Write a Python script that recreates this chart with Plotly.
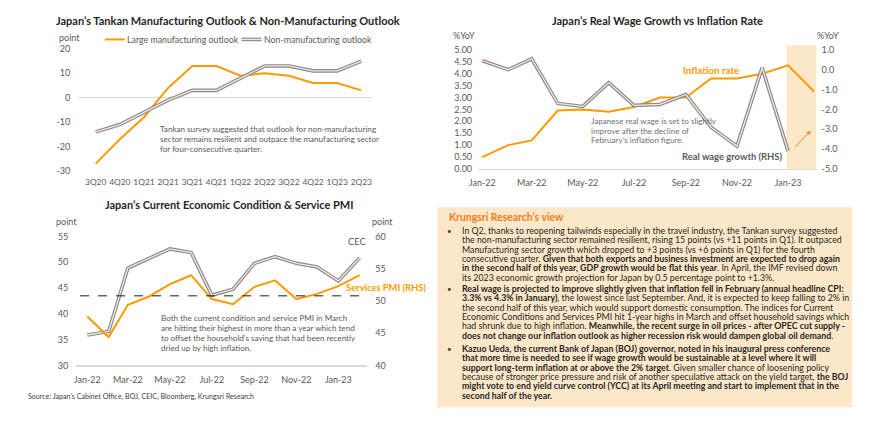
import plotly.graph_objects as go

W, H = 870, 424
FONT = "Lato"
ORANGE = "#FF9900"
GRAY_OUT = "#8F8883"
GRAY_IN = "#ECEAE8"
TXT = "#595959"
TITLE = "#262626"
PEACH = "#FDE7C9"

# ---------------- data ----------------
quarters = ["3Q20", "4Q20", "1Q21", "2Q21", "3Q21", "4Q21", "1Q22", "2Q22", "3Q22", "4Q22", "1Q23", "2Q23"]
large_mfg = [-27, -17, -8, 4, 13, 13, 9, 10, 9, 6, 6, 3]
non_mfg = [-14, -11, -6, -1, 3, 3, 8, 13, 13, 11, 11, 15]
tankan_ticks = [20, 10, 0, -10, -20, -30]
tankan_ticktext = ["20", "10", "0", "-10", "-20", "-30"]

months_infl = ["2022-01-01", "2022-02-01", "2022-03-01", "2022-04-01", "2022-05-01", "2022-06-01",
               "2022-07-01", "2022-08-01", "2022-09-01", "2022-10-01", "2022-11-01", "2022-12-01",
               "2023-01-01", "2023-02-01"]
inflation = [0.5, 1.0, 1.2, 2.45, 2.5, 2.4, 2.6, 3.0, 3.0, 3.8, 3.8, 4.0, 4.35, 3.25]
months_wage = months_infl[:13]
real_wage = [0.45, 0.0, 0.55, -1.7, -1.85, -0.65, -1.8, -1.75, -1.25, -2.9, -3.85, 0.1, -4.1]
infl_ticks = [0, 0.5, 1, 1.5, 2, 2.5, 3, 3.5, 4, 4.5, 5]
wage_ticks = [1, 0, -1, -2, -3, -4, -5]
wage_ticktext = ["1.0", "0.0", "-1.0", "-2.0", "-3.0", "-4.0", "-5.0"]

months_pmi = months_infl
cec = [35.9, 36.6, 48.9, 50.8, 52.6, 51.9, 43.6, 44.8, 49.8, 51.1, 49.8, 49.1, 46.4, 50.9]
pmi = [47.6, 44.4, 49.4, 50.7, 52.6, 54.0, 50.3, 49.5, 52.2, 53.2, 50.3, 51.1, 52.3, 54.0]
dash_level_cec = 43.5


def px(x):
    return x / W


def py(y):
    return 1 - y / H


fig = go.Figure()


def double_line(x, y, xa, ya, name):
    fig.add_trace(go.Scatter(x=x, y=y, xaxis=xa, yaxis=ya, mode="lines", name=name,
                             line=dict(color=GRAY_OUT, width=3.6), showlegend=False,
                             hoverinfo="skip"))
    fig.add_trace(go.Scatter(x=x, y=y, xaxis=xa, yaxis=ya, mode="lines", name=name,
                             line=dict(color=GRAY_IN, width=1.3), showlegend=False,
                             hoverinfo="skip"))


# chart 1
fig.add_trace(go.Scatter(x=quarters, y=large_mfg, xaxis="x", yaxis="y", mode="lines",
                         name="Large manufacturing outlook", line=dict(color=ORANGE, width=2),
                         showlegend=False))
double_line(quarters, non_mfg, "x", "y", "Non-manufacturing outlook")

# chart 2
fig.add_trace(go.Scatter(x=months_infl, y=inflation, xaxis="x2", yaxis="y2", mode="lines",
                         name="Inflation rate", line=dict(color=ORANGE, width=2), showlegend=False))
double_line(months_wage, real_wage, "x2", "y3", "Real wage growth (RHS)")

# chart 3
fig.add_trace(go.Scatter(x=months_pmi, y=pmi, xaxis="x3", yaxis="y5", mode="lines",
                         name="Services PMI (RHS)", line=dict(color=ORANGE, width=2),
                         showlegend=False))
double_line(months_pmi, cec, "x3", "y4", "CEC")

tickfont = dict(family=FONT, size=9, color=TXT)

fig.update_layout(
    width=W, height=H, margin=dict(l=0, r=0, t=0, b=0),
    paper_bgcolor="white", plot_bgcolor="rgba(0,0,0,0)",
    font=dict(family=FONT, color=TXT),
    showlegend=False,
    xaxis=dict(domain=[px(70), px(367)], anchor="y", type="category", range=[-0.72, 11.45],
               showgrid=False, showline=False, zeroline=False, ticks="",
               tickfont=dict(family=FONT, size=8.4, color=TXT),
               tickangle=0, ticklabelstandoff=5, fixedrange=True),
    yaxis=dict(domain=[py(169.3), py(44)], anchor="x", range=[-30, 20], tickvals=tankan_ticks,
               ticktext=tankan_ticktext, showgrid=False, zeroline=True, zerolinecolor="#D9D9D9",
               zerolinewidth=1, showline=False, ticks="", tickfont=tickfont, ticklabelstandoff=7),
    xaxis2=dict(domain=[px(474), px(816)], anchor="y2", type="date",
                range=["2021-12-27", "2023-02-04"], tick0="2022-01-01", dtick="M2",
                tickformat="%b-%y", showgrid=False, showline=True, linecolor="#D9D9D9", linewidth=1,
                zeroline=False, ticks="", tickfont=tickfont, tickangle=0, ticklabelstandoff=5),
    yaxis2=dict(domain=[py(167.3), py(45)], anchor="x2", range=[0, 5], tickvals=infl_ticks,
                tickformat=".2f", showgrid=False, zeroline=False, showline=False, ticks="",
                tickfont=tickfont, ticklabelstandoff=5),
    yaxis3=dict(overlaying="y2", anchor="x2", side="right", range=[-5, 1], tickvals=wage_ticks,
                ticktext=wage_ticktext, showgrid=False, zeroline=False, showline=False, ticks="",
                tickfont=tickfont, ticklabelstandoff=4),
    xaxis3=dict(domain=[px(68), px(362)], anchor="y4", type="date",
                range=["2021-12-16", "2023-02-12"], tick0="2022-01-01", dtick="M2",
                tickformat="%b-%y", showgrid=False, showline=True, linecolor="#D9D9D9", linewidth=1.5,
                zeroline=False, ticks="", tickfont=tickfont, tickangle=0, ticklabelstandoff=5),
    yaxis4=dict(domain=[py(369), py(236.7)], anchor="x3", range=[30, 55], dtick=5,
                showgrid=False, zeroline=False, showline=False, ticks="", tickfont=tickfont,
                ticklabelstandoff=7),
    yaxis5=dict(overlaying="y4", anchor="x3", side="right", range=[40, 60], dtick=5,
                showgrid=False, zeroline=False, showline=False, ticks="", tickfont=tickfont,
                ticklabelstandoff=7),
)


def legend_sample(x0, x1, y, color, width):
    return dict(type="line", xref="paper", yref="paper", x0=px(x0), x1=px(x1), y0=py(y), y1=py(y),
                line=dict(color=color, width=width))


shapes = [
    dict(type="rect", xref="x2", yref="paper", x0="2022-12-30", x1="2023-02-04",
         y0=py(167.3), y1=py(40), fillcolor=PEACH, line=dict(width=0), layer="below"),
    dict(type="line", xref="x3 domain", yref="y4", x0=0.013, x1=1.0, y0=dash_level_cec,
         y1=dash_level_cec, line=dict(color="#1a1a1a", width=1, dash="dash")),
    dict(type="rect", xref="paper", yref="paper", x0=px(433), x1=px(852), y0=py(412), y1=py(206.5),
         fillcolor=PEACH, line=dict(width=0), layer="below"),
    # chart 1 legend samples
    legend_sample(97, 117, 34.3, ORANGE, 2),
    legend_sample(235, 255, 34.3, GRAY_OUT, 3.6),
    legend_sample(235, 255, 34.3, GRAY_IN, 1.3),
]
fig.update_layout(shapes=shapes)

ann = []


def note(text, x, y, size=8, color=TXT, xanchor="left", yanchor="middle", bold=False, align="left"):
    if bold:
        text = "<b>" + text + "</b>"
    ann.append(dict(text=text, x=px(x), y=py(y), xref="paper", yref="paper", showarrow=False,
                    xanchor=xanchor, yanchor=yanchor, align=align,
                    font=dict(family=FONT, size=size, color=color)))


def note_lines(lines, x, y_first, spacing, size, color):
    """Multi-line text block whose line pitch is set independently from the glyph size."""
    base = spacing / 1.3
    text = "<br>".join('<span style="font-size:%.2fpx">%s</span>' % (size, ln) for ln in lines)
    y_mid = y_first + (len(lines) - 1) * spacing / 2
    note(text, x, y_mid, size=base, color=color)


# titles
note("Japan’s Tankan Manufacturing Outlook & Non-Manufacturing Outlook", 221, 15, size=11,
     color=TITLE, xanchor="center", bold=True)
note("Japan’s Real Wage Growth vs Inflation Rate", 655, 15, size=11, color=TITLE,
     xanchor="center", bold=True)
note("Japan’s Current Economic Condition & Service PMI", 222, 203.5, size=11, color=TITLE,
     xanchor="center", bold=True)

# chart 1 legend text
note("Large manufacturing outlook", 117.5, 34.3, size=8.8, color=TXT)
note("Non-manufacturing outlook", 256, 34.3, size=8.8, color=TXT)

# axis unit labels
note("point", 61.5, 32, size=9, xanchor="center")
note("%YoY", 460, 30, size=9, xanchor="center")
note("%YoY", 828, 30, size=9, xanchor="center")
note("point", 58, 221.5, size=9, xanchor="center")
note("point", 377, 221.5, size=9, xanchor="center")

# chart 1 commentary
note_lines(["Tankan survey suggested that outlook for non-manufacturing",
            "sector remains resilient and outpace the manufacturing sector",
            "for four-consecutive quarter."], 151, 126.3, 9.9, 8.1, "#595959")

# chart 2 annotations
note("Inflation rate", 709, 66, size=9.8, color=ORANGE, xanchor="center", bold=True)
note("Real wage growth (RHS)", 731, 155, size=9.4, color="#595959", xanchor="center", bold=True)
note_lines(["Japanese real wage is set to slightly", "improve after the decline of",
            "February’s inflation figure."], 586, 118.3, 9.7, 8.1, "#6f6f6f")
ann.append(dict(x=px(810), y=py(128), ax=-17, ay=18, xref="paper", yref="paper",
                showarrow=True, arrowhead=2, arrowsize=0.8, arrowwidth=1, arrowcolor="#F58220",
                text=""))

# chart 3 annotations
note("CEC", 352, 242, size=9.4, color="#595959", xanchor="center")
note("Services PMI (RHS)", 381, 289.5, size=9.4, color=ORANGE, xanchor="center", bold=True)
note_lines(["Both the current condition and service PMI in March",
            "are hitting their highest in more than a year which tend",
            "to offset the household’s saving that had been recently",
            "dried up by high inflation."], 152, 320.7, 9.85, 8.1, "#595959")

# source
note("Source: Japan’s Cabinet Office, BOJ, CEIC, Bloomberg, Krungsri Research", 17, 401,
     size=7.1, color="#404040")

# text box
note("Krungsri Research’s view", 443, 217, size=10.4, color="#F47B20", bold=True)

bullets = [
    ["In Q2, thanks to reopening tailwinds especially in the travel industry, the Tankan survey suggested",
     "the non-manufacturing sector remained resilient, rising 15 points (vs +11 points in Q1). It outpaced",
     "Manufacturing sector growth which dropped to +3 points (vs +6 points in Q1) for the fourth",
     "consecutive quarter. <b>Given that both exports and business investment are expected to drop again</b>",
     "<b>in the second half of this year, GDP growth would be flat this year</b>. In April, the IMF revised down",
     "its 2023 economic growth projection for Japan by 0.5 percentage point to +1.3%."],
    ["<b>Real wage is projected to improve slightly given that inflation fell in February (annual headline CPI:</b>",
     "<b>3.3% vs 4.3% in January)</b>, the lowest since last September. And, it is expected to keep falling to 2% in",
     "the second half of this year, which would support domestic consumption. The indices for Current",
     "Economic Conditions and Services PMI hit 1-year highs in March and offset household savings which",
     "had shrunk due to high inflation. <b>Meanwhile, the recent surge in oil prices - after OPEC cut supply -</b>",
     "<b>does not change our inflation outlook as higher recession risk would dampen global oil demand</b>."],
    ["<b>Kazuo Ueda, the current Bank of Japan (BOJ) governor, noted in his inaugural press conference</b>",
     "<b>that more time is needed to see if wage growth would be sustainable at a level where it will</b>",
     "<b>support long-term inflation at or above the 2% target</b>. Given smaller chance of loosening policy",
     "because of stronger price pressure and risk of another speculative attack on the yield target, <b>the BOJ</b>",
     "<b>might vote to end yield curve control (YCC) at its April meeting and start to implement that in the</b>",
     "<b>second half of the year.</b>"],
]
starts = [231, 290.7, 352.3]
LINE = 9.35
for start, lines in zip(starts, bullets):
    note("•", 445, start, size=8, color="#404040", xanchor="center")
    note_lines(lines, 456, start, LINE, 8.8, "#262626")

fig.update_layout(annotations=ann)

fig.write_html("out.html", config={"displayModeBar": False},
               post_script="document.body.style.margin='0';document.body.style.overflow='hidden';")
